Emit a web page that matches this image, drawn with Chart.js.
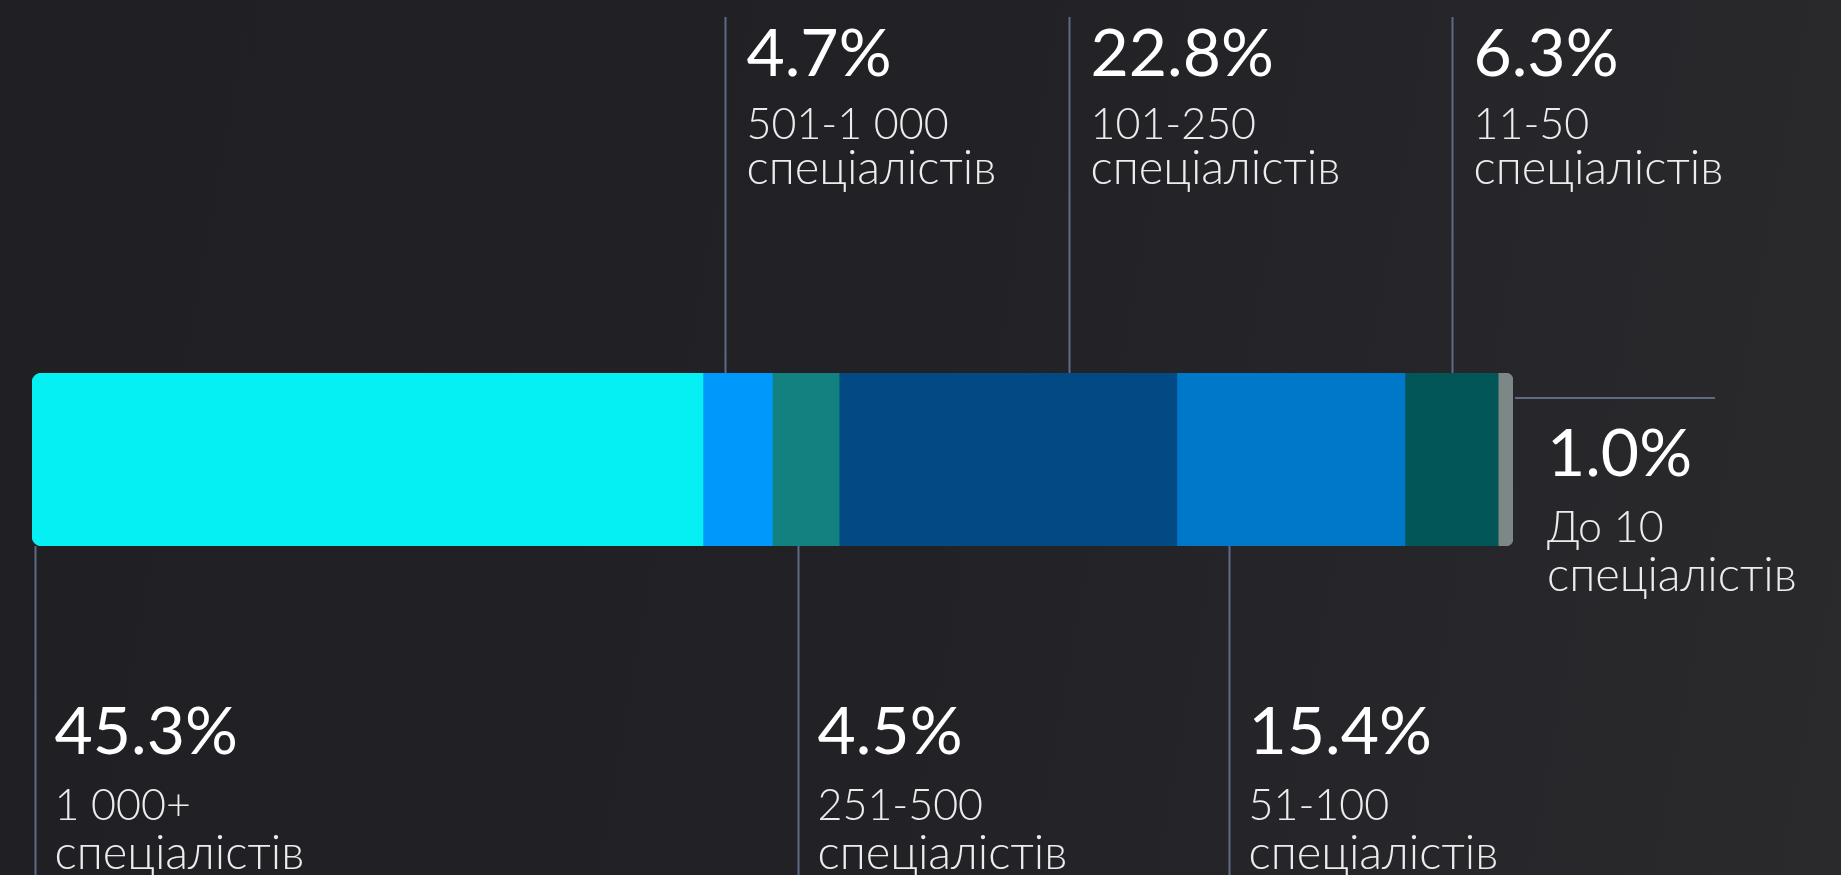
<!DOCTYPE html>
<html>
<head>
<meta charset="utf-8">
<title>Розмір компаній</title>
<script src="https://cdn.jsdelivr.net/npm/chart.js"></script>
<style>
html,body{margin:0;padding:0;width:1841px;height:875px;overflow:hidden;}
body{background:linear-gradient(100deg,#201f24 0%,#222126 50%,#2a2a2d 100%);}
</style>
</head>
<body>
<canvas id="sizeChart" width="1841" height="875"></canvas>
<script>
const ranges=['1 000+','501-1 000','251-500','101-250','51-100','11-50','До 10'];
const shares=[45.3,4.7,4.5,22.8,15.4,6.3,1.0];
const unit='спеціалістів';
const colors=['#05f0f2','#0099fb','#13817f','#014a84','#0078c9','#025657','#7e8787'];
const sides=['below','above','below','above','below','above','right'];

const segLabels={
    id:'segLabels',
    afterDatasetsDraw(chart,args,opts){
        const {ctx,scales:{x},chartArea:a}=chart;
        let acc=0;
        ctx.save();
        shares.forEach((v,i)=>{
            const lx=Math.round(x.getPixelForValue(acc+v*opts.anchor[i]))+0.5;
            acc+=v;
            const pct=v.toFixed(1)+'%';
            ctx.strokeStyle=opts.lineColor;
            ctx.lineWidth=2;
            ctx.beginPath();
            let tx,ty,d1=66,d2=115;
            if(sides[i]==='above'){
                ctx.moveTo(lx,17);ctx.lineTo(lx,a.top);
                tx=lx+21;ty=76;d1=63;d2=108;
            }else if(sides[i]==='below'){
                ctx.moveTo(lx,a.bottom);ctx.lineTo(lx,chart.height);
                tx=lx+19;ty=a.bottom+208;
            }else{
                const ex=x.getPixelForValue(100);
                ctx.moveTo(ex+2,a.top+25);ctx.lineTo(ex+202,a.top+25);
                tx=ex+34;ty=a.top+103;
            }
            ctx.stroke();
            ctx.fillStyle='#ffffff';
            ctx.textBaseline='alphabetic';
            ctx.font='400 66px Lato';
            ctx.fillText(pct,tx,ty);
            ctx.fillStyle='#ececec';
            ctx.font='300 43px Lato';
            ctx.fillText(ranges[i],tx,ty+d1);
            ctx.font='300 47px Lato';
            ctx.fillText(unit,tx,ty+d2);
        });
        ctx.restore();
    }
};

new Chart(document.getElementById('sizeChart'),{
    type:'bar',
    data:{
        labels:['Компанії'],
        datasets:shares.map((v,i)=>({
            label:ranges[i],data:[v],backgroundColor:colors[i],
            borderWidth:0,borderRadius:10,borderSkipped:'middle',
            barPercentage:1,categoryPercentage:1
        }))
    },
    options:{
        indexAxis:'y',
        responsive:false,
        animation:false,
        layout:{padding:{left:32,right:328,top:373,bottom:329}},
        scales:{
            x:{stacked:true,min:0,max:100,display:false},
            y:{stacked:true,display:false}
        },
        plugins:{
            legend:{display:false},
            tooltip:{enabled:false},
            segLabels:{anchor:[0.005,0.32,0.39,0.68,0.23,0.5,1],lineColor:'#5d6b85'}
        }
    },
    plugins:[segLabels]
});
</script>
</body>
</html>
